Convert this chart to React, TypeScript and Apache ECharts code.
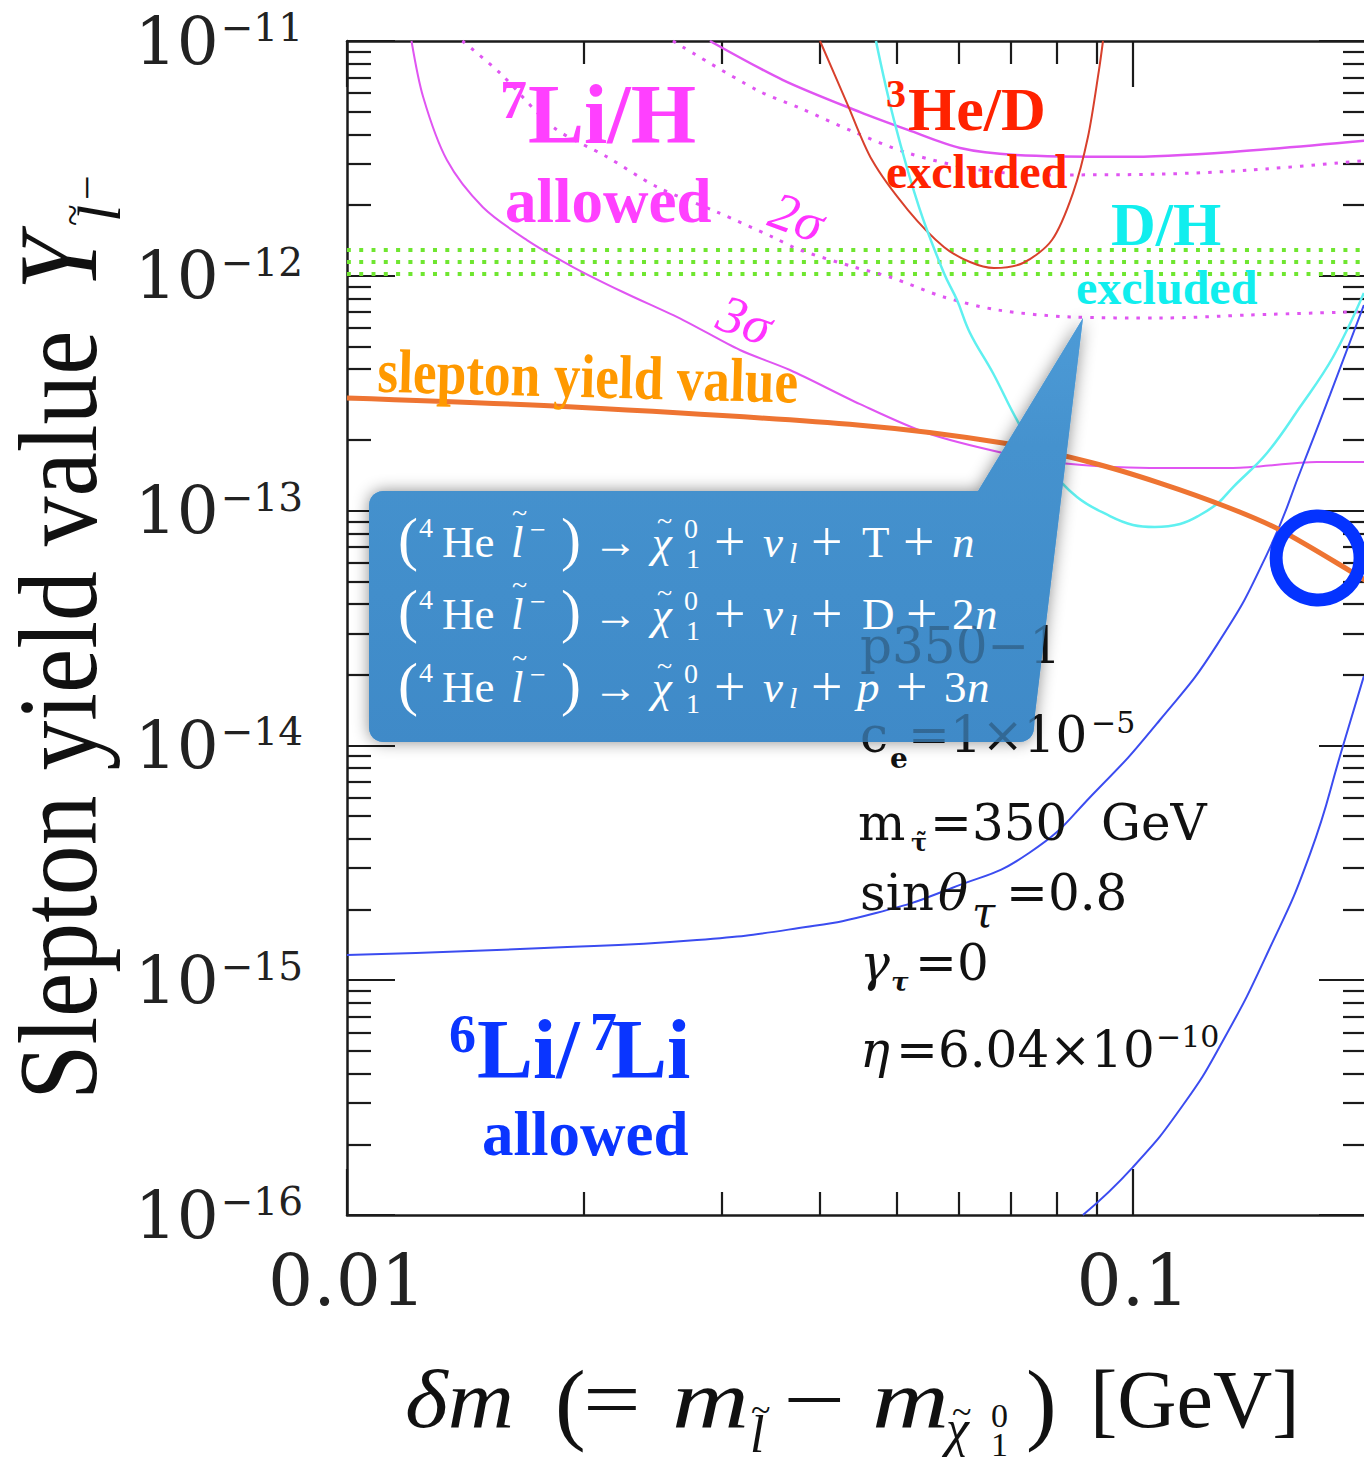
import React, { useEffect, useRef } from "react";
import * as echarts from "echarts";

// ---------- axes ----------
const X_MIN = 0.01;
const X_MAX = 0.1985;
const Y_MIN = 1e-16;
const Y_MAX = 1e-11;

const xMajorTicks = [0.01, 0.1];
const xMinorTicks = [0.02, 0.03, 0.04, 0.05, 0.06, 0.07, 0.08, 0.09];
const xTickLabels = [0.01, 0.1];
const yMajorTicks = [1e-16, 1e-15, 1e-14, 1e-13, 1e-12, 1e-11];
const yMinorMantissas = [2, 3, 4, 5, 6, 7, 8, 9];
const yMinorDecades = [1e-16, 1e-15, 1e-14, 1e-13, 1e-12];

// ---------- curves (delta m [GeV], yield) ----------
const sleptonYield = [
  [0.01, 3.02e-13], [0.01939, 2.76e-13], [0.04496, 2.31e-13], [0.06833, 1.94e-13],
  [0.08895, 1.595e-13], [0.1082, 1.31e-13], [0.1317, 1.036e-13], [0.1538, 8.27e-14],
  [0.1945, 5.22e-14], [0.1985, 4.98e-14],
];
const li7H3SigmaLow = [
  [0.01208, 1e-11], [0.0125, 5.77e-12], [0.0134, 3.11e-12], [0.01489, 1.96e-12],
  [0.01694, 1.42e-12], [0.01939, 1.09e-12], [0.02244, 8.53e-13], [0.02677, 6.48e-13],
  [0.03162, 4.83e-13], [0.03661, 3.97e-13], [0.04496, 2.84e-13], [0.05468, 2.14e-13],
  [0.06833, 1.76e-13], [0.08073, 1.595e-13], [0.1051, 1.52e-13], [0.134, 1.52e-13],
  [0.1714, 1.61e-13], [0.1985, 1.61e-13],
];
const li7H2SigmaLow = [
  [0.01402, 1e-11], [0.01565, 7.31e-12], [0.01829, 4.3e-12], [0.02142, 3.21e-12],
  [0.0248, 2.39e-12], [0.02956, 1.87e-12], [0.03483, 1.46e-12], [0.0377, 1.288e-12],
  [0.04416, 1.09e-12], [0.04907, 9.88e-13], [0.05747, 8.12e-13], [0.06733, 7.15e-13],
  [0.08316, 6.68e-13], [0.1082, 6.61e-13], [0.1409, 6.81e-13], [0.1985, 7.05e-13],
];
const li7H3SigmaHigh = [
  [0.02896, 1e-11], [0.03587, 6.82e-12], [0.04496, 4.98e-12], [0.05173, 4.18e-12],
  [0.06026, 3.5e-12], [0.07098, 3.27e-12], [0.09739, 3.21e-12], [0.1336, 3.37e-12],
  [0.1985, 3.77e-12],
];
const li7H2SigmaHigh = [
  [0.02598, 1e-11], [0.03323, 6.18e-12], [0.0377, 5.18e-12], [0.04416, 4.1e-12],
  [0.05173, 3.33e-12], [0.06387, 2.82e-12], [0.07887, 2.69e-12], [0.1082, 2.71e-12],
  [0.1409, 2.82e-12], [0.1985, 3.1e-12],
];
const he3DExcluded = [
  [0.03998, 1e-11], [0.04326, 5.44e-12], [0.04656, 3.11e-12], [0.05173, 1.906e-12],
  [0.05747, 1.327e-12], [0.06204, 1.145e-12], [0.06655, 1.08e-12], [0.07245, 1.134e-12],
  [0.07887, 1.42e-12], [0.08388, 2.25e-12], [0.08764, 3.9e-12], [0.09052, 7.52e-12],
  [0.09159, 1e-11],
];
const dhExcluded = [
  [0.0471, 1e-11], [0.04965, 4.61e-12], [0.05343, 1.96e-12], [0.05747, 1.028e-12],
  [0.05972, 7.88e-13], [0.06204, 5.71e-13], [0.06635, 3.855e-13], [0.0718, 2.31e-13],
  [0.07775, 1.564e-13], [0.08487, 1.143e-13], [0.09348, 9.48e-14], [0.1, 8.69e-14],
  [0.1066, 8.52e-14], [0.1148, 8.77e-14], [0.1217, 9.58e-14], [0.1283, 1.077e-13],
  [0.1341, 1.26e-13], [0.1481, 1.76e-13], [0.1631, 2.76e-13], [0.1797, 4.51e-13],
  [0.1967, 8.45e-13],
];
const li6Li7Upper = [
  [0.01, 1.28e-15], [0.01781, 1.371e-15], [0.02788, 1.483e-15], [0.03759, 1.668e-15],
  [0.0471, 1.933e-15], [0.05884, 2.47e-15], [0.07375, 3.48e-15], [0.09, 6.46e-15],
  [0.1082, 1.283e-14], [0.1279, 2.68e-14], [0.1481, 6.53e-14], [0.1645, 1.564e-13],
  [0.1781, 3.11e-13], [0.1967, 7.51e-13],
];
const li6Li7Lower = [
  [0.08636, 1e-16], [0.1, 1.6e-16], [0.1158, 2.94e-16], [0.1301, 5.51e-16],
  [0.1481, 1.293e-15], [0.168, 3.45e-15], [0.185, 9.94e-15], [0.1967, 1.975e-14],
];
const greenBandLevels = [1.288e-12, 1.145e-12, 1.018e-12];
const highlightPoint = [[0.172, 6.28e-14]];

// ---------- helpers ----------
const SERIF = '"Liberation Serif", "Times New Roman", serif';
const INFO = '"DejaVu Serif", serif';

function txt(text: string, x: number, base: number, size: number, color: string, o: any = {}) {
  return {
    type: "text",
    x,
    y: base,
    rotation: o.rot || 0,
    scaleX: o.sx || 1,
    scaleY: o.sy || 1,
    z: o.z ?? 50,
    silent: true,
    style: {
      text,
      x: 0,
      y: o.center ? 0 : -0.34 * size,
      fill: color,
      fontSize: size,
      fontFamily: o.font || SERIF,
      fontStyle: o.it ? "italic" : "normal",
      fontWeight: o.b ? "bold" : "normal",
      align: o.align || (o.center ? "center" : "left"),
      verticalAlign: "middle",
    },
  };
}

function corner(cx: number, cy: number, r: number, a0: number, a1: number) {
  const pts: number[][] = [];
  for (let i = 0; i <= 6; i++) {
    const a = ((a0 + ((a1 - a0) * i) / 6) * Math.PI) / 180;
    pts.push([cx + r * Math.cos(a), cy + r * Math.sin(a)]);
  }
  return pts;
}

const calloutOutline = [
  ...corner(383, 505, 14, 180, 270),
  [978, 491],
  [1083, 318],
  [1035, 714],
  ...corner(1020, 728, 14, 0, 90),
  ...corner(383, 728, 14, 90, 180),
];

function formulaLine(B: number, tail: any[]) {
  const W = "#ffffff";
  const pieces: any[] = [
    ["(", 398, 2, 60, false],
    ["4", 419, -20, 28, false],
    ["He", 442, 0, 45, false],
    ["l", 511, 0, 45, true],
    ["~", 512, -35, 28, false],
    ["\u2212", 530, -18, 28, false],
    [")", 561, 2, 60, false],
    ["\u2192", 593, 0, 45, false],
    ["\u03C7", 652, 0, 45, true],
    ["~", 657, -27, 28, false],
    ["0", 684, -19, 28, false],
    ["1", 686, 11, 28, false],
    ["+", 714, 4, 56, false],
    ["\u03BD", 763, 0, 45, true],
    ["l", 789, 6, 30, true],
    ["+", 811, 4, 56, false],
    ...tail,
  ];
  return pieces.map((p) => txt(p[0], p[1], B + p[2], p[3], W, { it: p[4], z: 70 }));
}

export default function App() {
  const ref = useRef<HTMLDivElement>(null);

  useEffect(() => {
    if (!ref.current) return;
    const chart = echarts.init(ref.current, undefined, { renderer: "svg" });

    const yMinorTicks = yMinorDecades.flatMap((d) =>
      yMinorMantissas.map((m) => Number((m * d).toPrecision(3)))
    );

    const axisColor = "#1b1b1b";
    const axisLineStyle = { color: axisColor, width: 2.5 };
    const tickStyle = { color: axisColor, width: 2.2 };

    const xBase: any = {
      type: "log", logBase: 10, min: X_MIN, max: X_MAX,
      splitLine: { show: false }, minorTick: { show: false }, minorSplitLine: { show: false },
    };
    const yBase: any = {
      type: "log", logBase: 10, min: Y_MIN, max: Y_MAX,
      splitLine: { show: false }, minorTick: { show: false }, minorSplitLine: { show: false },
    };

    const xAxis = [
      {
        ...xBase, position: "bottom",
        axisLine: { show: true, onZero: false, lineStyle: axisLineStyle },
        axisTick: { show: true, inside: true, length: 46, customValues: xMajorTicks, lineStyle: tickStyle },
        axisLabel: {
          show: true, customValues: xTickLabels, margin: 30, fontSize: 71, fontFamily: INFO, color: "#222",
          formatter: (v: number) => String(Number(v.toPrecision(2))),
        },
      },
      {
        ...xBase, position: "bottom", axisLine: { show: false },
        axisTick: { show: true, inside: true, length: 23, customValues: xMinorTicks, lineStyle: tickStyle },
        axisLabel: { show: false },
      },
      {
        ...xBase, position: "top",
        axisLine: { show: true, onZero: false, lineStyle: axisLineStyle },
        axisTick: { show: true, inside: true, length: 46, customValues: xMajorTicks, lineStyle: tickStyle },
        axisLabel: { show: false },
      },
      {
        ...xBase, position: "top", axisLine: { show: false },
        axisTick: { show: true, inside: true, length: 23, customValues: xMinorTicks, lineStyle: tickStyle },
        axisLabel: { show: false },
      },
    ];

    const yAxis = [
      {
        ...yBase, position: "left",
        axisLine: { show: true, onZero: false, lineStyle: axisLineStyle },
        axisTick: { show: true, inside: true, length: 48, customValues: yMajorTicks, lineStyle: tickStyle },
        axisLabel: {
          show: true, customValues: yMajorTicks, margin: 44,
          formatter: (v: number) => `{b|10}{s|\u2212${-Math.round(Math.log10(v))}}`,
          rich: {
            b: { fontSize: 66, fontFamily: INFO, color: "#222" },
            s: { fontSize: 39, fontFamily: INFO, color: "#222", verticalAlign: "top", padding: [0, 0, 0, 2] },
          },
        },
      },
      {
        ...yBase, position: "left", axisLine: { show: false },
        axisTick: { show: true, inside: true, length: 24, customValues: yMinorTicks, lineStyle: tickStyle },
        axisLabel: { show: false },
      },
      {
        ...yBase, position: "right",
        axisLine: { show: true, onZero: false, lineStyle: axisLineStyle },
        axisTick: { show: true, inside: true, length: 48, customValues: yMajorTicks, lineStyle: tickStyle },
        axisLabel: { show: false },
      },
      {
        ...yBase, position: "right", axisLine: { show: false },
        axisTick: { show: true, inside: true, length: 24, customValues: yMinorTicks, lineStyle: tickStyle },
        axisLabel: { show: false },
      },
    ];

    const curve = (name: string, data: number[][], color: string, width: number, type: any = "solid", z = 2, smooth = 0.3) => ({
      type: "line", name, data, showSymbol: false, symbol: "none", smooth, silent: true,
      xAxisIndex: 0, yAxisIndex: 0, z,
      lineStyle: { color, width, type, cap: "butt" },
    });

    const MAG = "#e055f2";
    const series: any[] = [
      ...greenBandLevels.map((lv, i) =>
        curve("band" + i, [[X_MIN, lv], [X_MAX, lv]], "#6fe630", 4, [4, 8.3], 2)
      ),
      curve("Li7H 3sigma low", li7H3SigmaLow, MAG, 2),
      curve("Li7H 2sigma low", li7H2SigmaLow, MAG, 3, [3.5, 8]),
      curve("Li7H 3sigma high", li7H3SigmaHigh, MAG, 2.5),
      curve("Li7H 2sigma high", li7H2SigmaHigh, MAG, 3, [3.5, 8]),
      curve("He3/D", he3DExcluded, "#d8402c", 2),
      curve("D/H", dhExcluded, "#5ff0f0", 2.5, "solid", 2, 0.4),
      curve("Li6/Li7 upper", li6Li7Upper, "#3b4cf0", 2, "solid", 2, 0.5),
      curve("Li6/Li7 lower", li6Li7Lower, "#3b4cf0", 2, "solid", 2, 0.5),
      curve("slepton yield", sleptonYield, "#ee7432", 5, "solid", 4),
      {
        type: "scatter", name: "highlight", data: highlightPoint, symbol: "circle", symbolSize: 84,
        clip: false, silent: true, z: 6,
        itemStyle: { color: "rgba(0,0,0,0)", borderColor: "#0433ff", borderWidth: 13, opacity: 1 },
      },
    ];

    const BOX_FILL = {
      type: "linear", x: 0, y: 0, x2: 0, y2: 1,
      colorStops: [
        { offset: 0, color: "#4d9bd7" },
        { offset: 0.3, color: "#4592ce" },
        { offset: 1, color: "#3f8ac8" },
      ],
    };

    const K = "#111111";
    const MG = "#ff40ff";
    const RED = "#ff2200";
    const CY = "#11eeee";
    const OR = "#ff9900";
    const BL = "#0a35ff";

    const graphic: any[] = [
      {
        type: "polygon", z: 40, silent: true,
        shape: { points: calloutOutline },
        style: { fill: BOX_FILL, shadowBlur: 16, shadowColor: "rgba(0,0,0,0.45)" },
      },
      txt("p350\u22121", 860, 663, 50, K, { font: INFO, z: 45 }),
      txt("c", 860, 752, 50, K, { font: INFO, z: 45 }),
      txt("e", 890, 768, 28, K, { font: INFO, b: true, z: 45 }),
      txt("=1\u00D710", 908, 752, 50, K, { font: INFO, z: 45 }),
      txt("\u22125", 1091, 733, 30, K, { font: INFO, z: 45 }),
      {
        type: "polygon", z: 60, silent: true,
        shape: { points: calloutOutline },
        style: { fill: BOX_FILL, opacity: 0.72 },
      },
      ...formulaLine(557, [
        ["T", 862, 0, 45, false], ["+", 903, 4, 56, false], ["n", 952, 0, 45, true],
      ]),
      ...formulaLine(629, [
        ["D", 862, 0, 45, false], ["+", 906, 4, 56, false], ["2", 952, 0, 45, false], ["n", 975, 0, 45, true],
      ]),
      ...formulaLine(702, [
        ["p", 857, 0, 45, true], ["+", 896, 4, 56, false], ["3", 944, 0, 45, false], ["n", 967, 0, 45, true],
      ]),

      // parameter list
      txt("m", 858, 840, 50, K, { font: INFO }),
      txt("\u03C4\u0303", 911, 851, 24, K, { font: INFO, b: true }),
      txt("=350", 930, 840, 50, K, { font: INFO }),
      txt("GeV", 1101, 840, 50, K, { font: INFO }),
      txt("sin", 860, 910, 50, K, { font: INFO }),
      txt("\u03B8", 938, 910, 50, K, { font: INFO, it: true }),
      txt("\u03C4", 972, 927, 42, K, { font: INFO, it: true }),
      txt("=0.8", 1006, 910, 50, K, { font: INFO }),
      txt("\u03B3", 860, 980, 50, K, { font: INFO, it: true }),
      txt("\u03C4", 891, 991, 26, K, { font: INFO, it: true, b: true }),
      txt("=0", 915, 980, 50, K, { font: INFO }),
      txt("\u03B7", 860, 1067, 50, K, { font: INFO, it: true }),
      txt("=6.04\u00D710", 896, 1067, 50, K, { font: INFO }),
      txt("\u221210", 1156, 1047, 30, K, { font: INFO }),

      // 7Li/H allowed
      txt("7", 500, 118, 54, MG, { b: true }),
      txt("Li/H", 528, 143, 84, MG, { b: true }),
      txt("allowed", 505, 222, 63, MG, { b: true }),
      txt("2\u03C3", 797, 217, 54, "#ff33ff", { it: true, center: true, rot: -0.35 }),
      txt("3\u03C3", 745, 320, 54, "#ff33ff", { it: true, center: true, rot: -0.35 }),

      // 3He/D excluded
      txt("3", 886, 107, 40, RED, { b: true }),
      txt("He/D", 908, 130, 62, RED, { b: true }),
      txt("excluded", 886, 188, 48, RED, { b: true }),

      // D/H excluded
      txt("D/H", 1111, 245, 62, CY, { b: true }),
      txt("excluded", 1076, 304, 48, CY, { b: true }),

      // slepton yield value
      txt("slepton yield value", 377, 392, 62, OR, { b: true, rot: -0.026, sx: 0.86 }),

      // 6Li/7Li allowed
      txt("6", 449, 1052, 54, BL, { b: true }),
      txt("Li/", 477, 1078, 84, BL, { b: true }),
      txt("7", 590, 1050, 54, BL, { b: true }),
      txt("Li", 611, 1078, 84, BL, { b: true }),
      txt("allowed", 482, 1155, 63, BL, { b: true }),

      // y-axis title
      txt("Slepton yield value", 97, 1100, 112, K, { rot: Math.PI / 2, sx: 0.89 }),
      txt("Y", 97, 290, 112, K, { rot: Math.PI / 2, sx: 0.89, it: true }),
      txt("l", 120, 222, 62, K, { rot: Math.PI / 2, it: true }),
      txt("~", 86, 226, 40, K, { rot: Math.PI / 2 }),
      txt("\u2212", 102, 200, 44, K, { rot: Math.PI / 2 }),

      // x-axis title
      txt("\u03B4m", 405, 1427, 82, K, { it: true, sx: 1.12 }),
      txt("(", 555, 1433, 92, K),
      txt("=", 583, 1427, 82, K, { sx: 1.25 }),
      txt("m", 672, 1427, 82, K, { it: true, sx: 1.3 }),
      txt("l", 750, 1452, 52, K, { it: true }),
      txt("~", 751, 1422, 36, K),
      txt("\u2212", 783, 1427, 82, K, { sx: 1.35 }),
      txt("m", 872, 1427, 82, K, { it: true, sx: 1.3 }),
      txt("\u03C7", 946, 1446, 52, K, { it: true }),
      txt("~", 952, 1424, 36, K),
      txt("0", 991, 1427, 34, K),
      txt("1", 991, 1456, 34, K),
      txt(")", 1026, 1433, 92, K),
      txt("[GeV]", 1090, 1427, 82, K),
    ];

    chart.setOption({
      animation: false,
      backgroundColor: "#ffffff",
      grid: { left: 347, top: 41, right: -3, bottom: 247, containLabel: false, outerBoundsMode: "none" },
      xAxis,
      yAxis,
      series,
      graphic,
    } as any);

    return () => chart.dispose();
  }, []);

  return (
    <div
      ref={ref}
      style={{ position: "fixed", left: 0, top: 0, width: 1364, height: 1462, background: "#fff" }}
    />
  );
}
